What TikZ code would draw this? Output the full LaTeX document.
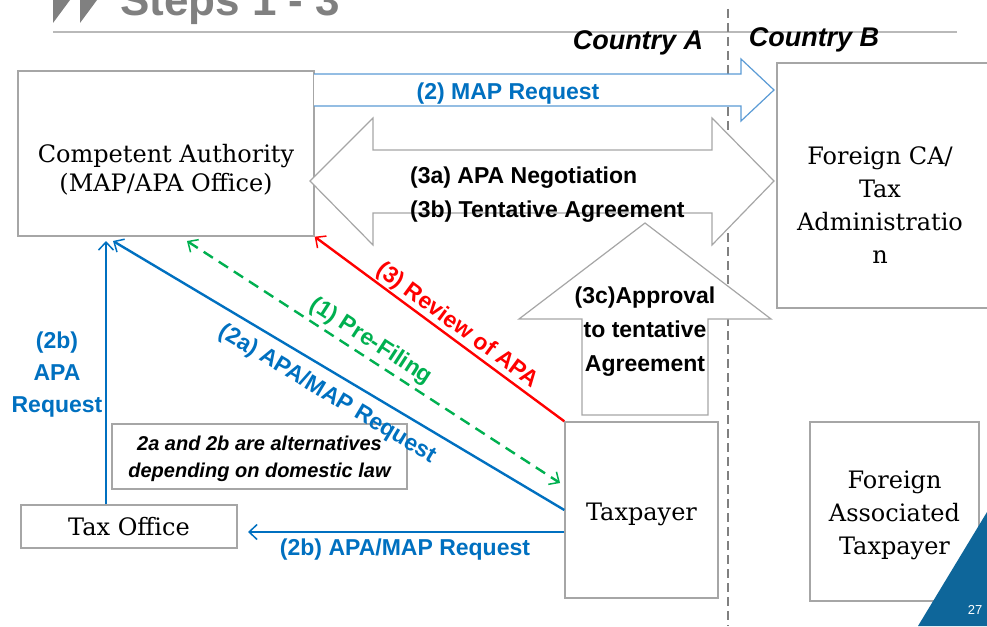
\documentclass[tikz,border=0pt]{standalone}
\usepackage{fontspec}
\usepackage{tikz}
\usepackage{xcolor}
\usetikzlibrary{arrows.meta}
\newfontfamily\slidesans{Liberation Sans}
\newfontfamily\boxserif{DejaVu Serif}
\definecolor{reqblue}{RGB}{0,112,192}
\definecolor{mapline}{RGB}{91,155,213}
\definecolor{revred}{RGB}{255,0,0}
\definecolor{filegreen}{RGB}{0,176,80}
\definecolor{boxgray}{RGB}{166,166,166}
\definecolor{titlegray}{RGB}{128,128,128}
\definecolor{cornerblue}{RGB}{14,102,154}
\tikzset{%
  tipO/.tip={Straight Barb[length=8pt,width=15pt,line width=1.5pt]},
  box/.style={draw=boxgray, line width=1.4pt, fill=white, align=center, inner sep=0pt,
    font=\boxserif\fontsize{24}{33}\selectfont},
  boxtext/.style={align=center, inner sep=0pt, font=\boxserif\fontsize{24}{33}\selectfont},
  lbl/.style={font=\slidesans\bfseries\fontsize{23}{32}\selectfont, align=center, inner sep=0pt},
  flow/.style={line width=2.4pt}
}

\begin{document}
\begin{tikzpicture}[x=1pt,y=-1pt]
\useasboundingbox (0,0) rectangle (987,626);
% title bar
\fill[titlegray] (53,23) -- (53,-2) -- (71.5,-2) -- cycle;
\fill[titlegray] (80,23) -- (80,-2) -- (98.5,-2) -- cycle;
\node[anchor=base west, inner sep=0pt, text=titlegray, font=\slidesans\bfseries\fontsize{44}{50}\selectfont] (title) at (120,16) {Steps 1 - 3};
\draw[gray!55, line width=1.5pt] (53,32) -- (957,32);
\draw[titlegray, line width=1.1pt, dash pattern=on 9pt off 5pt] (728,9) -- (728,626);
\node[font=\slidesans\bfseries\itshape\fontsize{27}{30}\selectfont] (ctryA) at (638,43) {Country A};
\node[font=\slidesans\bfseries\itshape\fontsize{27}{30}\selectfont] (ctryB) at (814,40) {Country B};

% boxes
\node[box, minimum width=296, minimum height=165] (ca) at (166,153.5) {};
\node[boxtext, font=\boxserif\fontsize{24}{29}\selectfont] (catext) at (166,170) {Competent Authority\\(MAP/APA Office)};
\node[box, minimum width=218, minimum height=245] (fca) at (886,185.5) {};
\node[boxtext] (fcatext) at (880,205) {Foreign CA/\\Tax\\Administratio\\n};
\node[box, minimum width=153, minimum height=176] (tp) at (641.5,510) {};
\node[boxtext] (tptext) at (641.5,514) {Taxpayer};
\node[box, minimum width=169, minimum height=179] (fat) at (894.5,511.5) {};
\node[boxtext] (fattext) at (894.5,515) {Foreign\\Associated\\Taxpayer};
\node[box, minimum width=216, minimum height=43] (tof) at (129,526.5) {Tax Office};
\node[box, minimum width=295, minimum height=65] (note) at (259.5,456.5) {};
\node[boxtext, font=\slidesans\bfseries\itshape\fontsize{20}{27}\selectfont] (notetext) at (259.5,458.5) {2a and 2b are alternatives\\depending on domestic law};

% block arrows between the authorities
\filldraw[draw=mapline, fill=white, line width=1.2pt] (314,106) -- (741,106) -- (741,121) -- (774,90) -- (741,59) -- (741,74) -- (314,74);
\filldraw[draw=boxgray, fill=white, line width=1.2pt] (310,181) -- (373,118) -- (373,150) -- (712,150) -- (712,118) -- (774,181) -- (712,245) -- (712,213) -- (373,213) -- (373,245) -- cycle;
\filldraw[draw=boxgray, fill=white, line width=1.2pt] (645,223) -- (771,319) -- (708,319) -- (708,415) -- (582,415) -- (582,319) -- (519,319) -- cycle;
\node[lbl, text=reqblue] (mapreq) at (508,94) {(2) MAP Request};
\node[lbl, align=left, anchor=west, font=\slidesans\bfseries\fontsize{23}{34}\selectfont] (nego) at (410,195) {(3a) APA Negotiation\\(3b) Tentative Agreement};
\node[lbl, font=\slidesans\bfseries\fontsize{23}{34}\selectfont] (approval) at (645,332) {(3c)Approval\\to tentative\\Agreement};

% request lines
\coordinate (caA) at (113,241);
\coordinate (caB) at (106,241);
\coordinate (pfA) at (187,241);
\coordinate (pfB) at (560,483);
\coordinate (tofin) at (248,532);
\draw[flow, revred, tipO-] (ca.south east) -- (tp.north west)
  node[lbl, sloped, pos=0.54, above=1pt] (review) {(3) Review of APA};
\draw[flow, filegreen, tipO-tipO, dash pattern=on 11pt off 7pt] (pfA) -- (pfB)
  node[lbl, sloped, pos=0.47, above=4pt] (prefile) {(1) Pre-Filing};
\draw[flow, reqblue, tipO-] (caA) -- (tp.west)
  node[lbl, sloped, pos=0.5, below=10pt] (req2a) {(2a) APA/MAP Request};
\draw[flow, reqblue, -tipO] ([xshift=-23pt]tof.north) -- (caB);
\node[lbl, text=reqblue] (req2b) at (57,375) {(2b)\\APA\\Request};
\draw[flow, reqblue, -tipO] ([yshift=-22pt]tp.west) -- (tofin);
\node[lbl, text=reqblue] (req2bm) at (405,550) {(2b) APA/MAP Request};

% page corner
\fill[cornerblue] (918,626) -- (987,512) -- (987,626) -- cycle;
\node[text=white, font=\slidesans\fontsize{13}{15}\selectfont] (page) at (975,610) {27};
\end{tikzpicture}
\end{document}
